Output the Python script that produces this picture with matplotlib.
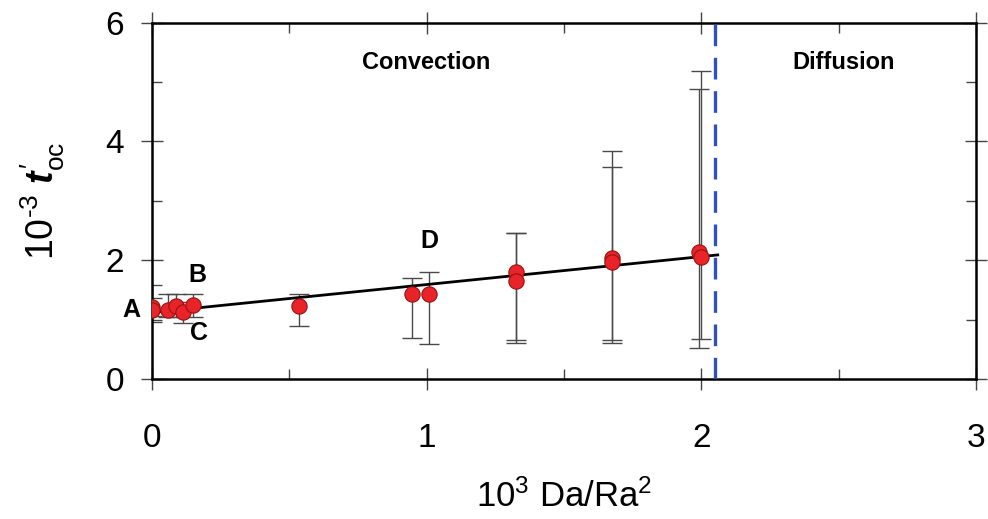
import matplotlib
matplotlib.use("Agg")
import matplotlib.pyplot as plt
from matplotlib.ticker import MultipleLocator

plt.rcParams["font.family"] = ["Liberation Sans", "DejaVu Sans"]
plt.rcParams["mathtext.fontset"] = "custom"
plt.rcParams["mathtext.rm"] = "Liberation Sans"
plt.rcParams["mathtext.it"] = "Liberation Sans:italic:bold"
plt.rcParams["mathtext.bf"] = "Liberation Sans:bold"

# measured points (10^3 Da/Ra^2, 10^-3 t'_oc) with error bar ends
x_pts = [0.0, 0.0, 0.06, 0.086, 0.113, 0.15, 0.535, 0.945, 1.01, 1.325, 1.325, 1.676, 1.676, 1.99, 2.0]
y_pts = [1.21, 1.17, 1.16, 1.23, 1.13, 1.25, 1.23, 1.44, 1.44, 1.80, 1.65, 2.03, 1.97, 2.14, 2.06]
y_lo = [0.96, 1.06, 1.05, 1.05, 0.94, 1.05, 0.89, 0.69, 0.59, 0.66, 0.60, 0.66, 0.60, 0.52, 0.68]
y_hi = [1.58, 1.36, 1.43, 1.43, 1.30, 1.43, 1.44, 1.70, 1.80, 2.46, 2.46, 3.84, 3.57, 4.89, 5.18]

# linear fit in convection regime
fit_x = [0.0, 2.06]
fit_y = [1.12, 2.09]

boundary_x = 2.05

labels = ["A", "B", "C", "D"]
label_x = [-0.075, 0.165, 0.17, 1.01]
label_y = [1.17, 1.76, 0.77, 2.33]

fig = plt.figure(figsize=(9.88, 5.19), dpi=100)
ax = fig.add_axes([0.1538, 0.2697, 0.8340, 0.6865])

err_lo = [y - lo for y, lo in zip(y_pts, y_lo)]
err_hi = [hi - y for y, hi in zip(y_pts, y_hi)]
ax.errorbar(x_pts, y_pts, yerr=[err_lo, err_hi], fmt="none", ecolor="#4a4a4a",
            elinewidth=1.0, capsize=7, capthick=1.0, zorder=2)
ax.plot(fit_x, fit_y, color="black", lw=2.0, zorder=3)
ax.plot(x_pts, y_pts, "o", ms=11, mfc="#e8242a", mec="#9a1010", mew=0.8, zorder=4)

ax.axvline(boundary_x, color="#3050c0", lw=2.4, dashes=(6.5, 3.5), zorder=5)

for lab, lx, ly in zip(labels, label_x, label_y):
    ax.text(lx, ly, lab, fontsize=18, fontweight="bold", ha="center", va="center", zorder=6)

ax.text(1.0, 5.33, "Convection", fontsize=17, fontweight="bold", ha="center", va="center")
ax.text(2.52, 5.33, "Diffusion", fontsize=17, fontweight="bold", ha="center", va="center")

ax.set_xlim(0, 3)
ax.set_ylim(0, 6)
ax.xaxis.set_major_locator(MultipleLocator(1))
ax.xaxis.set_minor_locator(MultipleLocator(0.5))
ax.yaxis.set_major_locator(MultipleLocator(2))
ax.yaxis.set_minor_locator(MultipleLocator(1))

for s in ax.spines.values():
    s.set_linewidth(1.8)
ax.tick_params(which="major", direction="inout", length=16, width=1.0, top=True, right=True,
               labelsize=24, color="#444444")
ax.tick_params(which="minor", direction="in", length=7, width=1.0, top=True, right=True, color="#444444")
ax.tick_params(axis="x", which="major", pad=24)
ax.tick_params(axis="y", which="major", pad=12)

ax.set_xlabel(r"10$^{3}$ Da/Ra$^{2}$", fontsize=25, labelpad=18)
ax.set_ylabel(r"10$^{\text{-3}}$ $\mathit{t}^{\prime}_{\mathregular{oc}}$", fontsize=27, labelpad=28)

fig.savefig("out.png", dpi=100)
